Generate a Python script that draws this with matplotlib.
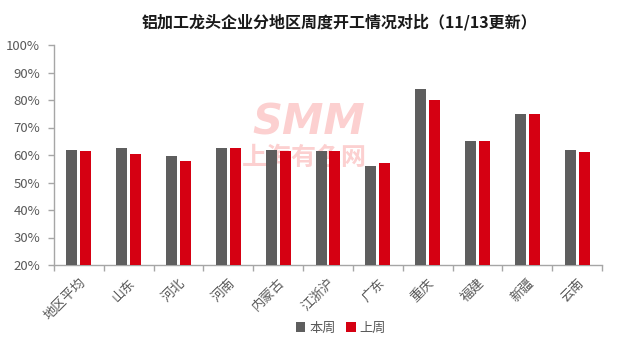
import matplotlib
matplotlib.use("Agg")
import matplotlib.pyplot as plt
import numpy as np
from matplotlib.ticker import FuncFormatter, MultipleLocator

plt.rcParams['font.family'] = ['Noto Sans CJK SC', 'DejaVu Sans']

title = "铝加工龙头企业分地区周度开工情况对比（11/13更新）"
regions = ["地区平均", "山东", "河北", "河南", "内蒙古", "江浙沪", "广东", "重庆", "福建", "新疆", "云南"]
this_week = [61.8, 62.5, 59.6, 62.5, 61.8, 61.5, 56.0, 84.0, 65.1, 74.9, 61.8]
last_week = [61.5, 60.4, 57.9, 62.6, 61.5, 61.5, 57.1, 80.0, 65.1, 74.9, 61.1]
series_names = ["本周", "上周"]

gray = "#5e5e5e"
red = "#d50012"
text_gray = "#595959"
mark_pink = "#fcd0d0"

fig = plt.figure(figsize=(6.24, 3.45), dpi=100)
ax = fig.add_axes([54 / 624, 1 - 265 / 345, (602 - 54) / 624, (265 - 45) / 345])

x = np.arange(len(regions))
w = 0.22
gap = 0.06
ax.bar(x - (w + gap) / 2, this_week, width=w, color=gray, label=series_names[0], zorder=3)
ax.bar(x + (w + gap) / 2, last_week, width=w, color=red, label=series_names[1], zorder=3)

ax.set_xlim(-0.5, len(regions) - 0.5)
ax.set_ylim(20, 100)
ax.yaxis.set_major_locator(MultipleLocator(10))
ax.yaxis.set_major_formatter(FuncFormatter(lambda v, p: f"{v:.0f}%"))

for s in ["top", "right"]:
    ax.spines[s].set_visible(False)
for s in ["left", "bottom"]:
    ax.spines[s].set_color("#a6a6a6")
    ax.spines[s].set_linewidth(1.0)

ax.tick_params(axis="y", colors="#a6a6a6", labelcolor=text_gray, labelsize=9.5,
               length=4, width=1, direction="out", pad=6)
ax.set_xticks(x)
ax.set_xticklabels(regions, rotation=45, ha="right", rotation_mode="anchor",
                   fontsize=9.5, color=text_gray)
ax.tick_params(axis="x", length=0, pad=8)
ax.set_xticks(np.arange(-0.5, len(regions), 1.0), minor=True)
ax.tick_params(axis="x", which="minor", length=4, width=1, color="#a6a6a6", direction="out")

# faint brand watermark behind the bars
fig.text(309 / 624, 1 - 123 / 345, "SMM", fontsize=30, fontweight="heavy", style="italic",
         color=mark_pink, ha="center", va="center", zorder=0, family="DejaVu Sans")
fig.text(304 / 624, 1 - 158 / 345, "上海有色网", fontsize=18, fontweight="bold",
         color=mark_pink, ha="center", va="center", zorder=0)
ax.set_zorder(1)
ax.patch.set_alpha(0)

fig.text(340 / 624, 1 - 22 / 345, title, fontsize=11.5, fontweight="bold",
         color="#1a1a1a", ha="center", va="center")

fig.legend(loc="center", bbox_to_anchor=(341 / 624, 1 - 328 / 345), ncol=2, frameon=False,
           fontsize=9.5, handlelength=0.7, handleheight=0.7, handletextpad=0.3,
           columnspacing=0.8, labelcolor=text_gray)

fig.savefig("out.png", dpi=100, facecolor="white")
